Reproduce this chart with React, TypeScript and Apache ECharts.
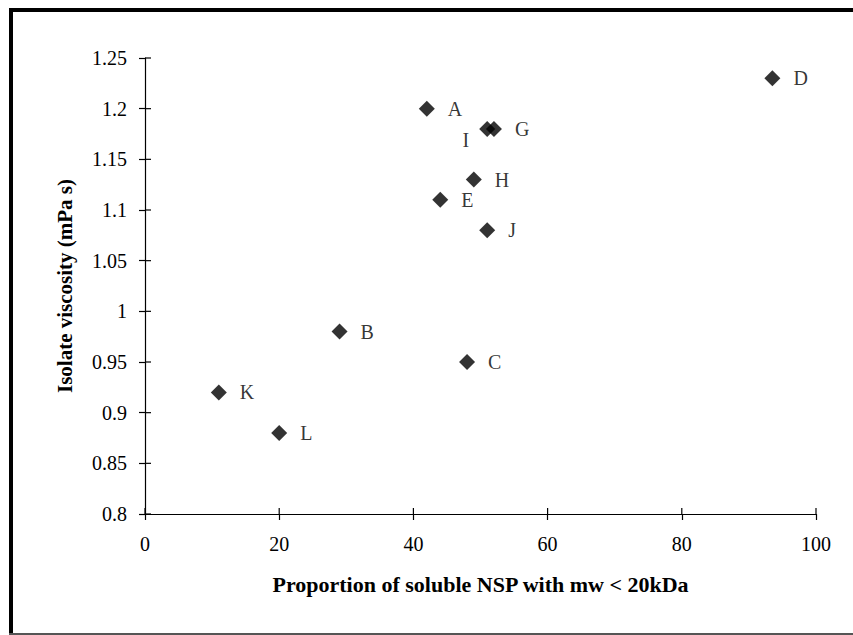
import React, { useEffect, useRef } from "react";
import * as echarts from "echarts";

const names = ["A", "B", "C", "D", "E", "G", "H", "I", "J", "K", "L"];
const xValues = [42, 29, 48, 93.5, 44, 52, 49, 51, 51, 11, 20];
const yValues = [1.2, 0.98, 0.95, 1.23, 1.11, 1.18, 1.13, 1.18, 1.08, 0.92, 0.88];
const xTickValues = [0, 20, 40, 60, 80, 100];
const yTickValues = [0.8, 0.85, 0.9, 0.95, 1, 1.05, 1.1, 1.15, 1.2, 1.25];
const xRange = { min: 0, max: 100, interval: 20 };
const yRange = { min: 0.8, max: 1.25, interval: 0.05 };

const FONT = "'Liberation Serif', 'Times New Roman', serif";

export default function App() {
  const ref = useRef<HTMLDivElement>(null);
  useEffect(() => {
    document.body.style.margin = "0";
    const chart = echarts.init(ref.current!, null, { renderer: "svg" });
    const data = names.map((n, i) => {
      const item: any = { name: n, value: [xValues[i], yValues[i]] };
      if (n === "I") {
        item.label = { position: "left", distance: 10, offset: [0, 11] };
      }
      return item;
    });
    const tickData = [
      ...xTickValues.map((v) => [v, yRange.min, 0]),
      ...yTickValues.map((v) => [xRange.min, v, 1]),
    ];
    const tickStyle = { color: "#000", width: 1.2 };
    chart.setOption({
      animation: false,
      backgroundColor: "#fff",
      grid: { left: 145, right: 37, top: 58, bottom: 121 },
      xAxis: {
        type: "value",
        min: xRange.min,
        max: xRange.max,
        interval: xRange.interval,
        splitLine: { show: false },
        name: "Proportion of soluble NSP with mw < 20kDa",
        nameLocation: "middle",
        nameGap: 59,
        nameTextStyle: { fontFamily: FONT, fontWeight: "bold", fontSize: 22, color: "#000" },
        axisLine: { show: true, onZero: false, lineStyle: tickStyle },
        axisTick: { show: true, inside: false, length: 6, lineStyle: tickStyle },
        axisLabel: { show: true, margin: 20, fontFamily: FONT, fontSize: 20, color: "#000" },
      },
      yAxis: {
        type: "value",
        min: yRange.min,
        max: yRange.max,
        interval: yRange.interval,
        splitLine: { show: false },
        name: "Isolate viscosity (mPa s)",
        nameLocation: "middle",
        nameGap: 70,
        nameTextStyle: { fontFamily: FONT, fontWeight: "bold", fontSize: 21, color: "#000" },
        axisLine: { show: true, onZero: false, lineStyle: tickStyle },
        axisTick: { show: true, inside: false, length: 6, lineStyle: tickStyle },
        axisLabel: {
          show: true,
          margin: 18,
          fontFamily: FONT,
          fontSize: 20,
          color: "#000",
          formatter: (v: number) => String(parseFloat(v.toFixed(2))),
        },
      },
      series: [
        {
          type: "scatter",
          symbol: "diamond",
          symbolSize: 16,
          itemStyle: { color: "#000" },
          label: {
            show: true,
            position: "right",
            distance: 13,
            formatter: (p: any) => p.name,
            fontFamily: FONT,
            fontSize: 20,
            color: "#000",
          },
          data,
          z: 3,
        },
        {
          type: "custom",
          silent: true,
          clip: false,
          encode: { x: 0, y: 1 },
          data: tickData,
          renderItem: (_params: any, api: any) => {
            const pt = api.coord([api.value(0), api.value(1)]);
            const dir = api.value(2);
            const shape =
              dir === 0
                ? { x1: pt[0], y1: pt[1], x2: pt[0], y2: pt[1] - 6 }
                : { x1: pt[0], y1: pt[1], x2: pt[0] + 6, y2: pt[1] };
            return { type: "line", shape, style: { stroke: "#000", lineWidth: 1.2 } };
          },
          z: 2,
        },
      ],
      graphic: [
        { type: "rect", shape: { x: 9, y: 8, width: 844, height: 4 }, style: { fill: "#000" } },
        { type: "rect", shape: { x: 9, y: 8, width: 4, height: 627 }, style: { fill: "#000" } },
        { type: "rect", shape: { x: 9, y: 633, width: 844, height: 2 }, style: { fill: "#555" } },
      ],
    });
    return () => chart.dispose();
  }, []);
  return <div ref={ref} style={{ width: 853, height: 635 }} />;
}
